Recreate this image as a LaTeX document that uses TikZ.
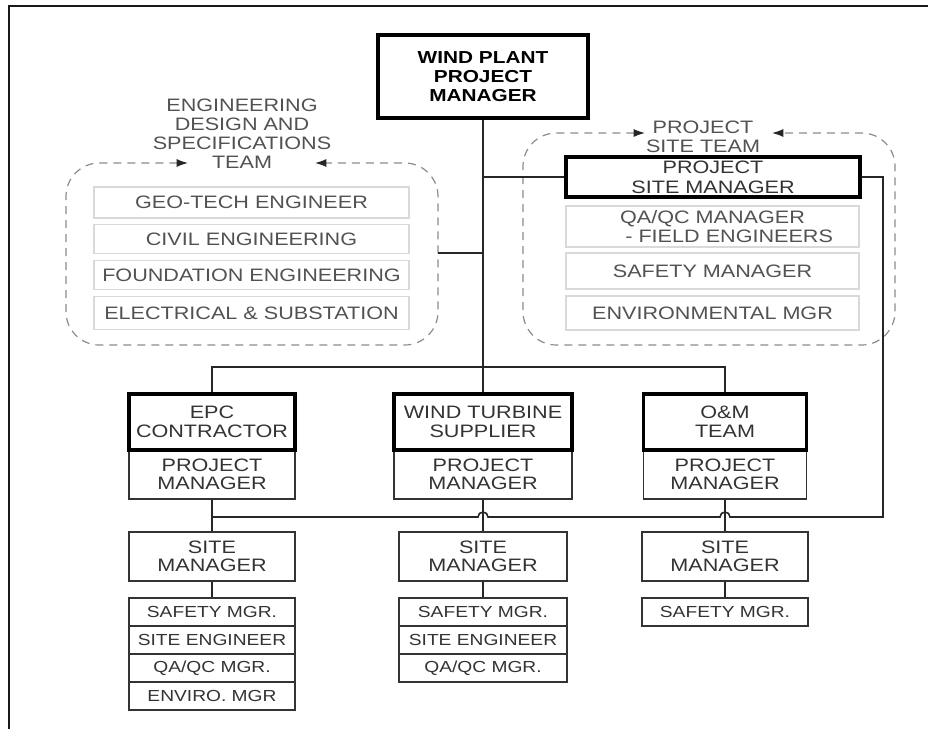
\documentclass[tikz,border=0pt]{standalone}
\usepackage{fontspec}
\setmainfont{Liberation Sans}[FakeStretch=1.2]
\usepackage{xcolor}
\usepackage{tikz}
\usetikzlibrary{arrows.meta}
\usetikzlibrary{calc}

\definecolor{txtgray}{HTML}{333333}
\definecolor{memgray}{HTML}{D9D9D9}
\definecolor{dashgray}{HTML}{8C8C8C}

\begin{document}
\begin{tikzpicture}[
  x=0.75pt, y=-0.75pt,
  >={Latex[length=8.5pt, width=6pt, black!85]},
  boxsize/.style 2 args={minimum width=#1*0.75pt, minimum height=#2*0.75pt},
  lead/.style={
    rectangle,
    draw=black,
    line width=2.5pt,
    inner sep=0pt,
    align=center,
    text=txtgray,
    font=\fontsize{13.5}{14.5}\selectfont
  },
  unit/.style={
    rectangle,
    draw=black!80,
    line width=1pt,
    inner sep=0pt,
    align=center,
    text=txtgray,
    font=\fontsize{13.5}{13.5}\selectfont
  },
  item/.style={unit, font=\fontsize{12}{13}\selectfont},
  member/.style={
    rectangle,
    draw=memgray,
    line width=0.8pt,
    inner sep=0pt,
    align=center,
    text=txtgray!85,
    font=\fontsize{13.5}{14}\selectfont
  },
  teamlabel/.style={align=center, inner sep=0pt, text=txtgray!85, font=\fontsize{13.5}{14.25}\selectfont},
  team/.style={<->, dashgray, line width=0.9pt, dash pattern=on 6pt off 4.5pt, rounded corners=25pt},
  link/.style={line width=1.2pt, black!85}
]
\useasboundingbox (0,0) rectangle (928,729);
\draw[line width=1.5pt, black!90] (9,729) -- (9,6) -- (928,6);

\node[lead, text=black, font=\fontsize{13}{14}\selectfont\bfseries, line width=2.8pt, boxsize={210}{83}] (wpm) at (483,76.5) {WIND PLANT\\PROJECT\\MANAGER};

% engineering design team
\node[teamlabel] (englbl) at (242,133.5) {ENGINEERING\\DESIGN AND\\SPECIFICATIONS\\TEAM};
\draw[team] (188,163) -- (66,163) -- (66,345) -- (438,345) -- (438,163) -- (315,163);
\node[member, boxsize={315}{31}] (geo)   at (251.5,202.5) {GEO-TECH ENGINEER};
\node[member, boxsize={315}{29}] (civil) at (251.5,239) {CIVIL ENGINEERING};
\node[member, boxsize={315}{29}] (found) at (251.5,275) {FOUNDATION ENGINEERING};
\node[member, boxsize={315}{33}] (elec)  at (251.5,313) {ELECTRICAL \& SUBSTATION};
\coordinate (engport) at (438,253);

% project site team
\node[teamlabel] (sitelbl) at (703,136.5) {PROJECT\\SITE TEAM};
\draw[team] (645,133) -- (523,133) -- (523,345) -- (895,345) -- (895,133) -- (772,133);
\node[lead, font=\fontsize{13.5}{15}\selectfont, boxsize={294}{40}] (psm) at (713,177) {PROJECT\\SITE MANAGER};
\node[member, boxsize={293}{41}] (qaqc)   at (712.5,226.5) {QA/QC MANAGER\\\hspace*{25pt}- FIELD ENGINEERS};
\node[member, boxsize={293}{36}] (safety) at (712.5,271) {SAFETY MANAGER};
\node[member, boxsize={293}{34}] (envmgr) at (712.5,313) {ENVIRONMENTAL MGR};

% EPC contractor
\node[unit, boxsize={166}{49}] (epcpm) at (212,474.5) {PROJECT\\MANAGER};
\node[lead, boxsize={166}{56}] (epc)   at (212,422) {EPC\\CONTRACTOR};
\node[unit, boxsize={166}{49}] (epcsm) at (212,556.5) {SITE\\MANAGER};
\node[item, boxsize={166}{28}] (epc1) at (212,612) {SAFETY MGR.};
\node[item, boxsize={166}{28}] (epc2) at (212,640) {SITE ENGINEER};
\node[item, boxsize={166}{28}] (epc3) at (212,668) {QA/QC MGR.};
\node[item, boxsize={166}{28}] (epc4) at (212,696) {ENVIRO. MGR};

% wind turbine supplier
\node[unit, boxsize={178}{49}] (wtspm) at (483,474.5) {PROJECT\\MANAGER};
\node[lead, boxsize={178}{56}] (wts)   at (483,422) {WIND TURBINE\\SUPPLIER};
\node[unit, boxsize={168}{49}] (wtssm) at (483,556.5) {SITE\\MANAGER};
\node[item, boxsize={168}{28}] (wts1) at (483,612) {SAFETY MGR.};
\node[item, boxsize={168}{28}] (wts2) at (483,640) {SITE ENGINEER};
\node[item, boxsize={168}{28}] (wts3) at (483,668) {QA/QC MGR.};

% O&M team
\node[unit, boxsize={163}{49}] (ompm) at (725,474.5) {PROJECT\\MANAGER};
\node[lead, boxsize={163}{56}] (om)   at (725,422) {O\&M\\TEAM};
\node[unit, boxsize={166}{49}] (omsm) at (725,556.5) {SITE\\MANAGER};
\node[item, boxsize={166}{28}] (om1)  at (725,612) {SAFETY MGR.};

% reporting lines
\coordinate (split) at (483,367);
\draw[link] (wpm.south) -- (split);
\draw[link] (engport) -- (engport -| wpm.south);
\draw[link] (psm.west) -- (psm.west -| wpm.south);
\draw[link] (epc.north) |- (split) -| (om.north);
\draw[link] (split) -- (wts.north);
\coordinate (siterail) at (883,517);
\draw[link] (psm.east) -| (siterail)
  -- ($(ompm.south |- siterail)+(5,0)$) arc[start angle=0, end angle=-180, radius=5]
  -- ($(wtspm.south |- siterail)+(5,0)$) arc[start angle=0, end angle=-180, radius=5]
  -- (epcpm.south |- siterail);
\draw[link] (epcpm.south) -- (epcsm.north);
\draw[link] (wtspm.south) -- (wtssm.north);
\draw[link] (ompm.south) -- (omsm.north);
\draw[link] (epcsm.south) -- (epc1.north);
\draw[link] (wtssm.south) -- (wts1.north);
\draw[link] (omsm.south) -- (om1.north);
\end{tikzpicture}
\end{document}
